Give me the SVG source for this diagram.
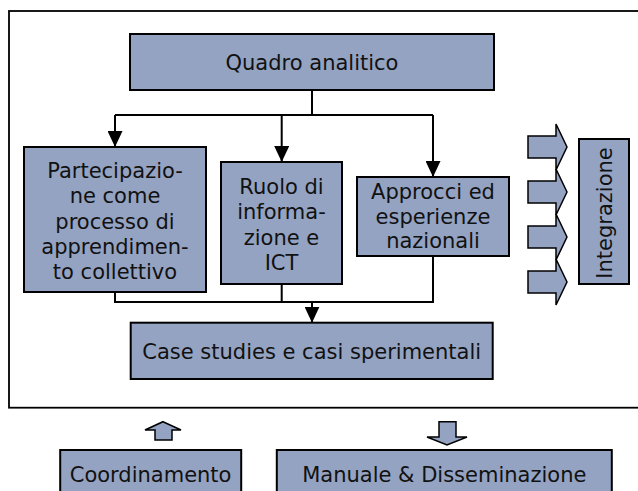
<svg xmlns="http://www.w3.org/2000/svg" width="638" height="491" viewBox="0 0 638 491">
<style>
.box{fill:#94a3c2;stroke:#000;stroke-width:2}
.t{font-family:"DejaVu Sans",Verdana,sans-serif;font-size:21px;fill:#111;text-anchor:middle}
.ln{fill:none;stroke:#000;stroke-width:2}
.blk{fill:#94a3c2;stroke:#000;stroke-width:1.5;stroke-linejoin:miter}
</style>
<defs>
<marker id="ah" viewBox="0 0 16 15" refX="16" refY="7.5" markerWidth="16" markerHeight="15" markerUnits="userSpaceOnUse" orient="auto">
<path d="M0,0 L16,7.5 L0,15 z" fill="#000"/>
</marker>
</defs>
<rect x="9" y="11" width="640" height="396.7" fill="#fff" stroke="#000" stroke-width="1.8"/>
<g id="connectors">
<path class="ln" d="M312,90 V115 M115,115 H433"/>
<path class="ln" d="M115,115 V147" marker-end="url(#ah)"/>
<path class="ln" d="M281.7,115 V162" marker-end="url(#ah)"/>
<path class="ln" d="M433,115 V177" marker-end="url(#ah)"/>
<path class="ln" d="M115,292 V302 H433 V256 M281.7,284 V302"/>
<path class="ln" d="M312,302 V322.7" marker-end="url(#ah)"/>
</g>
<g id="quadro">
<rect class="box" x="130" y="34" width="364" height="56"/>
<text class="t" x="312" y="70">Quadro analitico</text>
</g>
<g id="partecipazione">
<rect class="box" x="24" y="147" width="182" height="145"/>
<text class="t" x="115" y="177.5">Partecipazio-</text>
<text class="t" x="115" y="203">ne come</text>
<text class="t" x="115" y="228.5">processo di</text>
<text class="t" x="115" y="254">apprendimen-</text>
<text class="t" x="115" y="279">to collettivo</text>
</g>
<g id="ruolo">
<rect class="box" x="221" y="162" width="121" height="122"/>
<text class="t" x="281.5" y="194">Ruolo di</text>
<text class="t" x="281.5" y="219.3">informa-</text>
<text class="t" x="281.5" y="244.6">zione e</text>
<text class="t" x="281.5" y="269.9">ICT</text>
</g>
<g id="approcci">
<rect class="box" x="357" y="177" width="152" height="79"/>
<text class="t" x="433" y="199.3">Approcci ed</text>
<text class="t" x="433" y="223.5">esperienze</text>
<text class="t" x="433" y="247.7">nazionali</text>
</g>
<g id="case">
<rect class="box" x="130.7" y="322.7" width="362" height="56.3"/>
<text class="t" x="311.7" y="359">Case studies e casi sperimentali</text>
</g>
<g id="integrazione-arrows">
<path class="blk" d="M528,136 H556 V124 L567,147 L556,170 V158 H528 Z"/>
<path class="blk" d="M528,181 H556 V169 L567,192 L556,215 V203 H528 Z"/>
<path class="blk" d="M528,226 H556 V214 L567,237 L556,260 V248 H528 Z"/>
<path class="blk" d="M528,271 H556 V259 L567,282 L556,305 V293 H528 Z"/>
</g>
<g id="integrazione">
<rect class="box" x="579" y="139" width="50" height="145"/>
<text class="t" transform="translate(604,213) rotate(-90)" x="0" y="8">Integrazione</text>
</g>
<g id="up-arrow">
<path class="blk" d="M163,421.7 L181,430 H172 V440 H155 V430 H145 Z"/>
</g>
<g id="down-arrow">
<path class="blk" d="M439,421.7 H456 V437 H467 L447,445 L427,437 H439 Z"/>
</g>
<g id="coordinamento">
<rect class="box" x="60.2" y="450" width="181" height="60"/>
<text class="t" x="150.6" y="482">Coordinamento</text>
</g>
<g id="manuale">
<rect class="box" x="276.8" y="450" width="335" height="60"/>
<text class="t" x="444.3" y="482">Manuale &amp; Disseminazione</text>
</g>
</svg>
